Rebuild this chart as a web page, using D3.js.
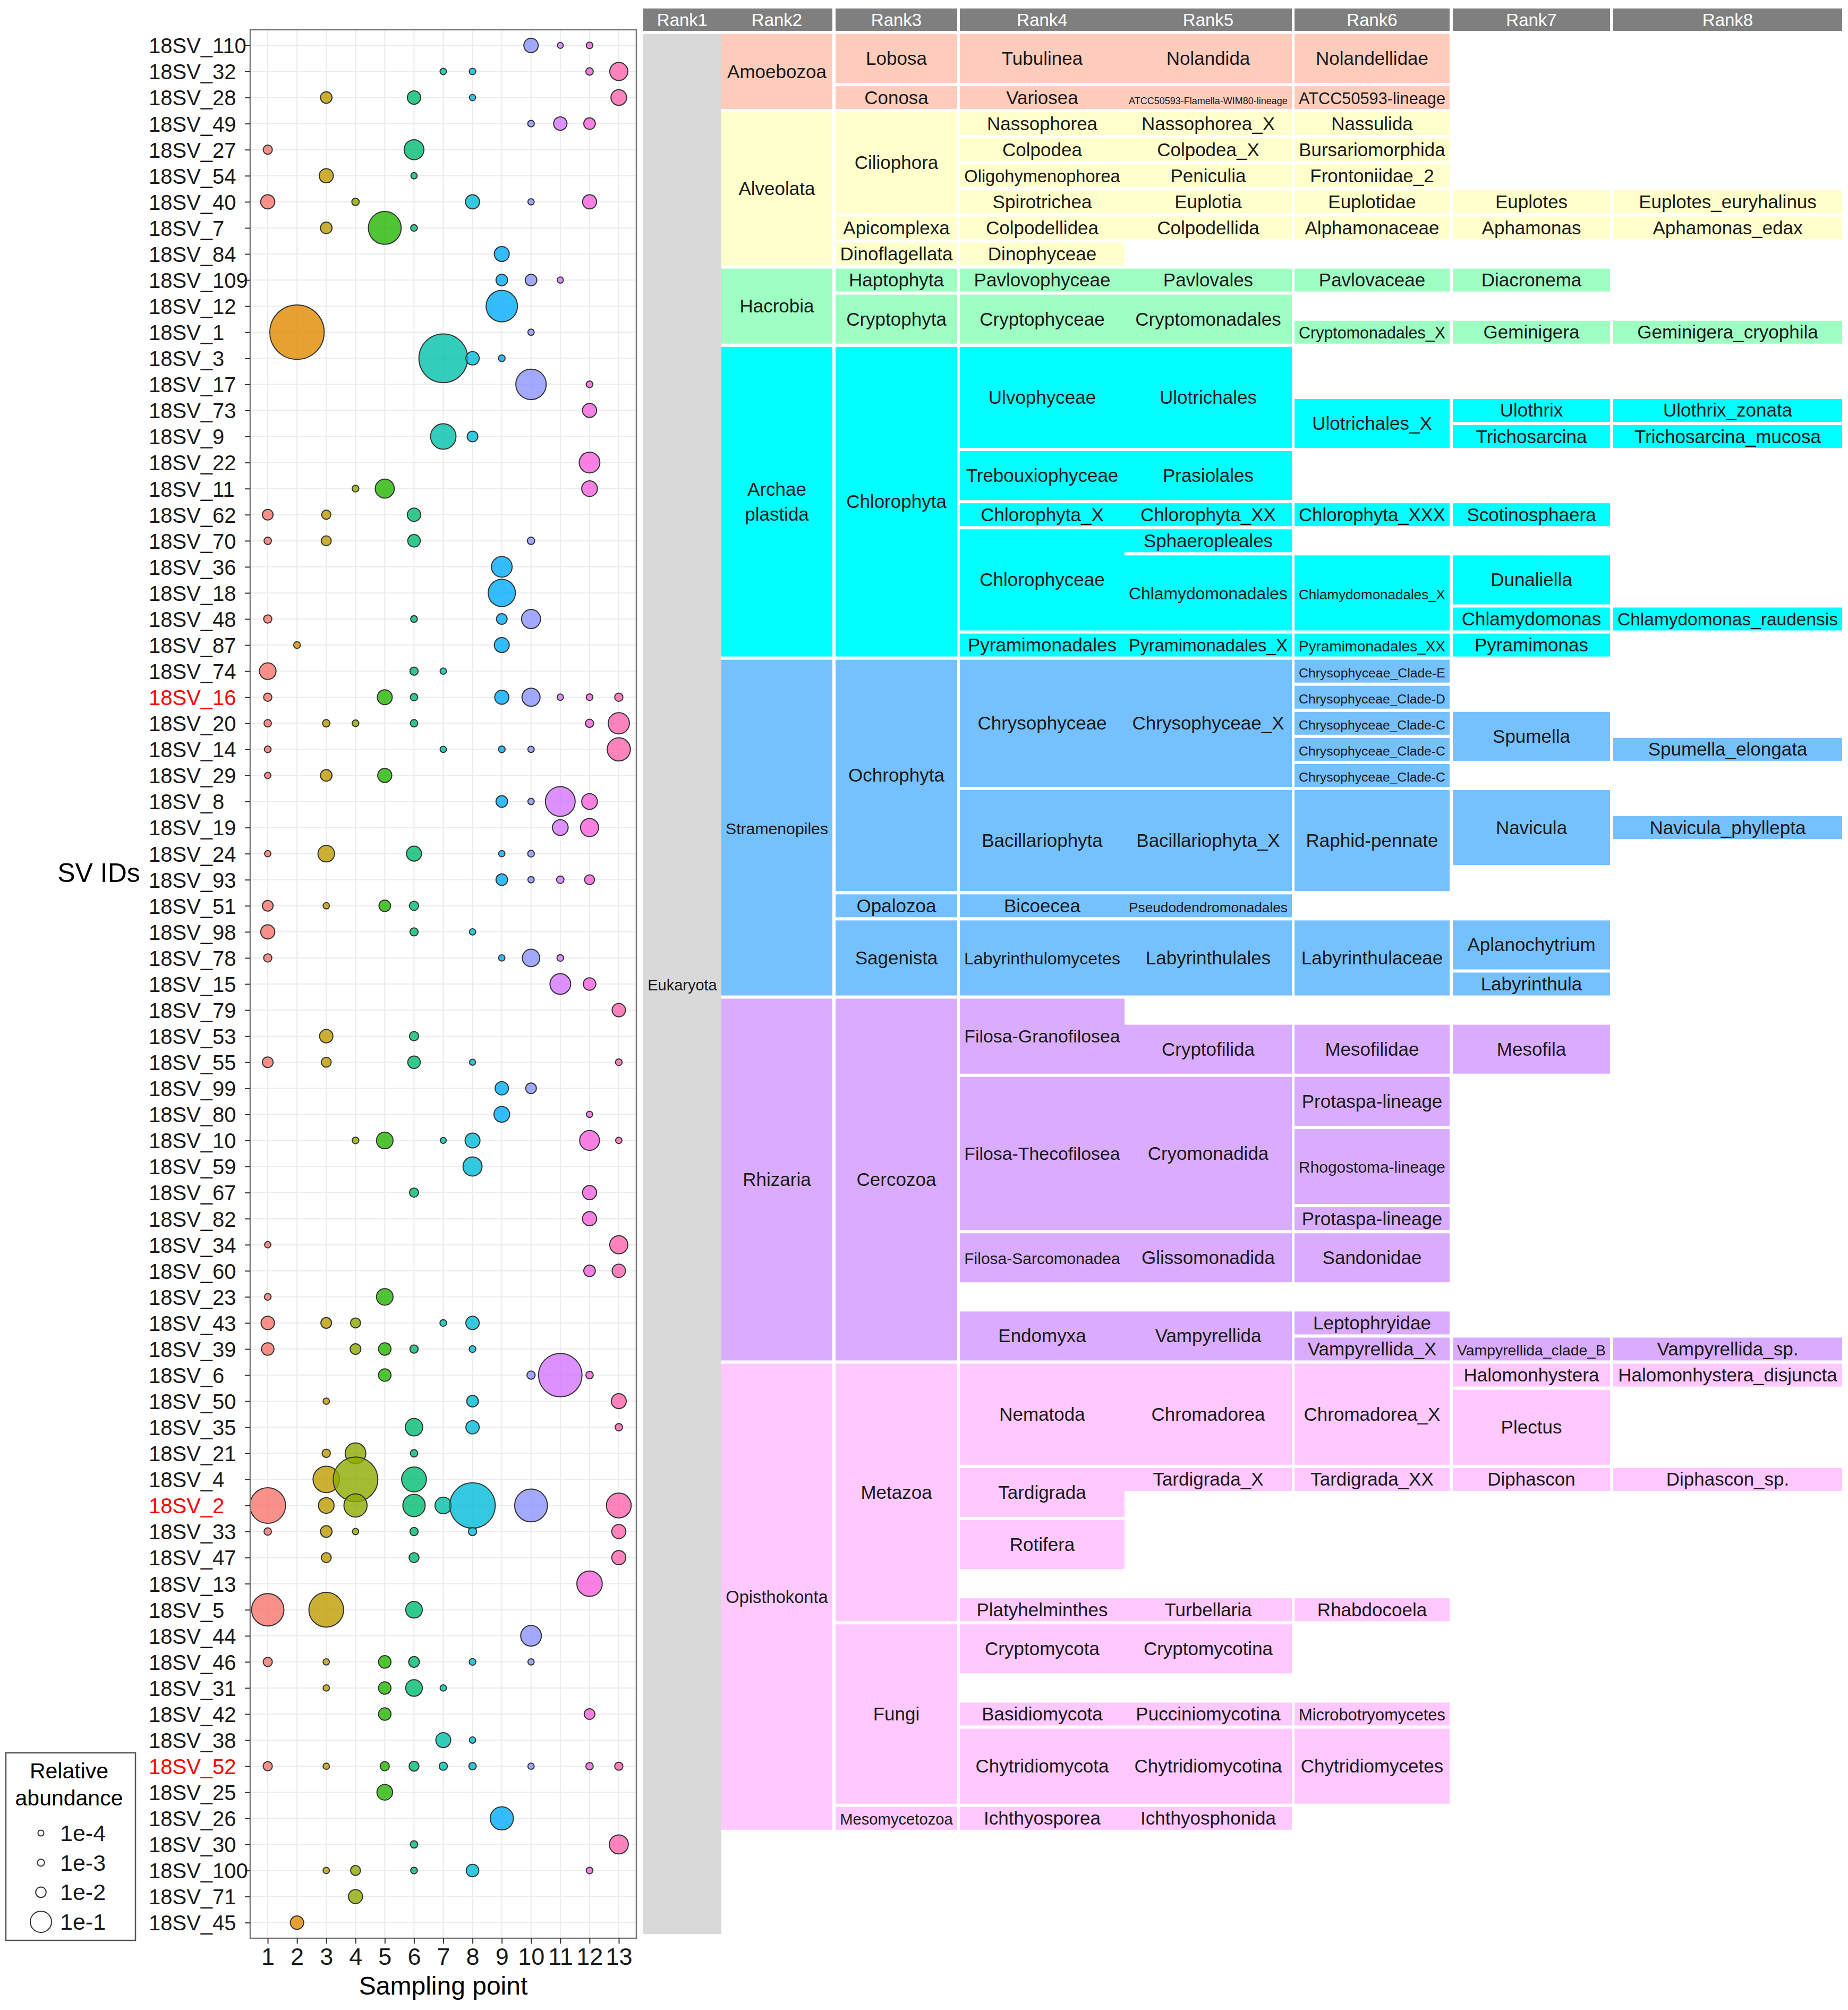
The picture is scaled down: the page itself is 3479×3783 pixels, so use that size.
<!DOCTYPE html>
<html>
<head>
<meta charset="utf-8">
<script src="https://cdn.jsdelivr.net/npm/d3@7"></script>
<style>
body { margin: 0; background: #fff; }
text { font-family: "Liberation Sans", Arial, Helvetica, sans-serif; }
</style>
</head>
<body>
<script>
var W = 3479, H = 3783;

// SV ids, top to bottom
var svIds = ["18SV_110","18SV_32","18SV_28","18SV_49","18SV_27","18SV_54","18SV_40","18SV_7","18SV_84","18SV_109",
  "18SV_12","18SV_1","18SV_3","18SV_17","18SV_73","18SV_9","18SV_22","18SV_11","18SV_62","18SV_70",
  "18SV_36","18SV_18","18SV_48","18SV_87","18SV_74","18SV_16","18SV_20","18SV_14","18SV_29","18SV_8",
  "18SV_19","18SV_24","18SV_93","18SV_51","18SV_98","18SV_78","18SV_15","18SV_79","18SV_53","18SV_55",
  "18SV_99","18SV_80","18SV_10","18SV_59","18SV_67","18SV_82","18SV_34","18SV_60","18SV_23","18SV_43",
  "18SV_39","18SV_6","18SV_50","18SV_35","18SV_21","18SV_4","18SV_2","18SV_33","18SV_47","18SV_13",
  "18SV_5","18SV_44","18SV_46","18SV_31","18SV_42","18SV_38","18SV_52","18SV_25","18SV_26","18SV_30",
  "18SV_100","18SV_71","18SV_45"];
var highlighted = ["18SV_16", "18SV_2", "18SV_52"];

var samplingPoints = [1,2,3,4,5,6,7,8,9,10,11,12,13];
var pointColors = ["#F8766D","#E18A00","#BE9C00","#8CAB00","#24B700","#00BE70","#00C1AB",
  "#00BBDA","#00ACFC","#8B93FF","#D575FE","#F962DD","#FF65AC"];

// relative abundance per SV: [sampling point, value]
var abundance = [
  [[10,.032],[11,.0001],[12,.0005]],
  [[7,.0004],[8,.0004],[12,.0015],[13,.064]],
  [[3,.015],[6,.025],[8,.0002],[13,.042]],
  [[10,.0005],[11,.025],[12,.015]],
  [[1,.0055],[6,.083]],
  [[3,.03],[6,.0003]],
  [[1,.03],[4,.0015],[8,.03],[10,.0003],[12,.03]],
  [[3,.015],[5,.30],[6,.0006]],
  [[9,.036]],
  [[9,.015],[10,.015],[11,.0002]],
  [[9,.27]],
  [[2,.96],[10,.0003]],
  [[7,.75],[8,.025],[9,.0006]],
  [[10,.25],[12,.0006]],
  [[12,.03]],
  [[7,.16],[8,.011]],
  [[12,.093]],
  [[4,.0006],[5,.074],[12,.042]],
  [[1,.011],[3,.0055],[6,.025]],
  [[1,.0015],[3,.008],[6,.02],[10,.0015]],
  [[9,.093]],
  [[9,.19]],
  [[1,.003],[6,.0006],[9,.011],[10,.074]],
  [[2,.0006],[9,.036]],
  [[1,.05],[6,.003],[7,.0003]],
  [[1,.003],[5,.036],[6,.0015],[9,.03],[10,.064],[11,.0003],[12,.0006],[13,.003]],
  [[1,.0015],[3,.0015],[4,.0006],[6,.0015],[12,.003],[13,.10]],
  [[1,.0006],[7,.0003],[9,.0006],[10,.0003],[13,.126]],
  [[1,.0003],[3,.015],[5,.03]],
  [[9,.015],[10,.0003],[11,.237],[12,.042]],
  [[11,.042],[12,.064]],
  [[1,.0003],[3,.05],[6,.036],[9,.0003],[10,.0006]],
  [[9,.015],[10,.0003],[11,.0015],[12,.008]],
  [[1,.011],[3,.0003],[5,.015],[6,.0055]],
  [[1,.03],[6,.003],[8,.0003]],
  [[1,.003],[9,.0003],[10,.057],[11,.0006]],
  [[11,.093],[12,.02]],
  [[13,.025]],
  [[3,.025],[6,.0055]],
  [[1,.011],[3,.008],[6,.02],[8,.0001],[13,.0006]],
  [[9,.025],[10,.011]],
  [[9,.042],[12,.0003]],
  [[4,.0006],[5,.05],[7,.0001],[8,.036],[12,.083],[13,.0003]],
  [[8,.074]],
  [[6,.0055],[12,.03]],
  [[12,.03]],
  [[1,.0003],[13,.064]],
  [[12,.015],[13,.025]],
  [[1,.0006],[5,.05]],
  [[1,.025],[3,.011],[4,.008],[7,.0006],[8,.025]],
  [[1,.02],[4,.011],[5,.02],[6,.003],[8,.0006]],
  [[5,.02],[10,.003],[11,.58],[12,.0015]],
  [[3,.0003],[8,.015],[13,.036]],
  [[6,.057],[8,.025],[13,.0015]],
  [[3,.003],[4,.093],[6,.0015]],
  [[3,.177],[4,.615],[6,.15]],
  [[1,.364],[3,.042],[4,.126],[6,.114],[7,.05],[8,.642],[10,.30],[13,.15]],
  [[1,.0015],[3,.015],[4,.0003],[6,.003],[8,.003],[13,.03]],
  [[3,.008],[6,.008],[13,.03]],
  [[12,.16]],
  [[1,.29],[3,.344],[6,.05]],
  [[10,.093]],
  [[1,.0055],[3,.0003],[5,.02],[6,.011],[8,.0006],[10,.0003]],
  [[3,.0003],[5,.02],[6,.05],[7,.0003]],
  [[5,.02],[12,.011]],
  [[7,.036],[8,.0003]],
  [[1,.0055],[3,.0003],[5,.0055],[6,.008],[7,.003],[8,.0015],[10,.0003],[12,.0015],[13,.003]],
  [[5,.042]],
  [[9,.126]],
  [[6,.0015],[13,.074]],
  [[3,.0003],[4,.008],[6,.0006],[8,.02],[12,.0006]],
  [[4,.03]],
  [[2,.025]]
];

var legendBreaks = [1e-4, 1e-3, 1e-2, 1e-1];
var legendLabels = ["1e-4", "1e-3", "1e-2", "1e-1"];

// taxonomy table
var ranks = ["Rank1","Rank2","Rank3","Rank4","Rank5","Rank6","Rank7","Rank8"];
var headerGroups = [["Rank1","Rank2"],["Rank3"],["Rank4","Rank5"],["Rank6"],["Rank7"],["Rank8"]];
var rank1 = [["18SV_110","18SV_45","Eukaryota"]];
var rank2 = [["18SV_110","18SV_28","Amoebozoa"],["18SV_49","18SV_84","Alveolata"],["18SV_109","18SV_1","Hacrobia"],
  ["18SV_3","18SV_87","Archae\nplastida"],["18SV_74","18SV_15","Stramenopiles"],["18SV_79","18SV_39","Rhizaria"],
  ["18SV_6","18SV_26","Opisthokonta"]];
var groupColors = ["#FFCBBB","#FFFFCC","#9EFFC2","#00FFFF","#75C1FF","#DAACFF","#FFC8FF"];
var rank3 = [["18SV_110","18SV_32","Lobosa"],["18SV_28","Conosa"],["18SV_49","18SV_40","Ciliophora"],["18SV_7","Apicomplexa"],
  ["18SV_84","Dinoflagellata"],["18SV_109","Haptophyta"],["18SV_12","18SV_1","Cryptophyta"],["18SV_3","18SV_87","Chlorophyta"],
  ["18SV_74","18SV_93","Ochrophyta"],["18SV_51","Opalozoa"],["18SV_98","18SV_15","Sagenista"],["18SV_79","18SV_39","Cercozoa"],
  ["18SV_6","18SV_5","Metazoa"],["18SV_44","18SV_25","Fungi"],["18SV_26","Mesomycetozoa"]];
var rank4 = [["18SV_110","18SV_32","Tubulinea"],["18SV_28","Variosea"],["18SV_49","Nassophorea"],["18SV_27","Colpodea"],
  ["18SV_54","Oligohymenophorea"],["18SV_40","Spirotrichea"],["18SV_7","Colpodellidea"],["18SV_84","Dinophyceae"],
  ["18SV_109","Pavlovophyceae"],["18SV_12","18SV_1","Cryptophyceae"],["18SV_3","18SV_9","Ulvophyceae"],
  ["18SV_22","18SV_11","Trebouxiophyceae"],["18SV_62","Chlorophyta_X"],["18SV_70","18SV_48","Chlorophyceae"],
  ["18SV_87","Pyramimonadales"],["18SV_74","18SV_29","Chrysophyceae"],["18SV_8","18SV_93","Bacillariophyta"],
  ["18SV_51","Bicoecea"],["18SV_98","18SV_15","Labyrinthulomycetes"],["18SV_79","18SV_55","Filosa-Granofilosea"],
  ["18SV_99","18SV_82","Filosa-Thecofilosea"],["18SV_34","18SV_60","Filosa-Sarcomonadea"],["18SV_43","18SV_39","Endomyxa"],
  ["18SV_6","18SV_21","Nematoda"],["18SV_4","18SV_2","Tardigrada"],["18SV_33","18SV_47","Rotifera"],["18SV_5","Platyhelminthes"],
  ["18SV_44","18SV_46","Cryptomycota"],["18SV_42","Basidiomycota"],["18SV_38","18SV_25","Chytridiomycota"],["18SV_26","Ichthyosporea"]];
var rank5 = [["18SV_110","18SV_32","Nolandida"],["18SV_28","ATCC50593-Flamella-WIM80-lineage"],["18SV_49","Nassophorea_X"],
  ["18SV_27","Colpodea_X"],["18SV_54","Peniculia"],["18SV_40","Euplotia"],["18SV_7","Colpodellida"],["18SV_109","Pavlovales"],
  ["18SV_12","18SV_1","Cryptomonadales"],["18SV_3","18SV_9","Ulotrichales"],["18SV_22","18SV_11","Prasiolales"],
  ["18SV_62","Chlorophyta_XX"],["18SV_70","Sphaeropleales"],["18SV_36","18SV_48","Chlamydomonadales"],["18SV_87","Pyramimonadales_X"],
  ["18SV_74","18SV_29","Chrysophyceae_X"],["18SV_8","18SV_93","Bacillariophyta_X"],["18SV_51","Pseudodendromonadales"],
  ["18SV_98","18SV_15","Labyrinthulales"],["18SV_53","18SV_55","Cryptofilida"],["18SV_99","18SV_82","Cryomonadida"],
  ["18SV_34","18SV_60","Glissomonadida"],["18SV_43","18SV_39","Vampyrellida"],["18SV_6","18SV_21","Chromadorea"],
  ["18SV_4","Tardigrada_X"],["18SV_5","Turbellaria"],["18SV_44","18SV_46","Cryptomycotina"],["18SV_42","Pucciniomycotina"],
  ["18SV_38","18SV_25","Chytridiomycotina"],["18SV_26","Ichthyosphonida"]];
var rank6 = [["18SV_110","18SV_32","Nolandellidae"],["18SV_28","ATCC50593-lineage"],["18SV_49","Nassulida"],
  ["18SV_27","Bursariomorphida"],["18SV_54","Frontoniidae_2"],["18SV_40","Euplotidae"],["18SV_7","Alphamonaceae"],
  ["18SV_109","Pavlovaceae"],["18SV_1","Cryptomonadales_X"],["18SV_73","18SV_9","Ulotrichales_X"],["18SV_62","Chlorophyta_XXX"],
  ["18SV_36","18SV_48","Chlamydomonadales_X"],["18SV_87","Pyramimonadales_XX"],["18SV_74","Chrysophyceae_Clade-E"],
  ["18SV_16","Chrysophyceae_Clade-D"],["18SV_20","Chrysophyceae_Clade-C"],["18SV_14","Chrysophyceae_Clade-C"],
  ["18SV_29","Chrysophyceae_Clade-C"],["18SV_8","18SV_93","Raphid-pennate"],["18SV_98","18SV_15","Labyrinthulaceae"],
  ["18SV_53","18SV_55","Mesofilidae"],["18SV_99","18SV_80","Protaspa-lineage"],["18SV_10","18SV_67","Rhogostoma-lineage"],
  ["18SV_82","Protaspa-lineage"],["18SV_34","18SV_60","Sandonidae"],["18SV_43","Leptophryidae"],["18SV_39","Vampyrellida_X"],
  ["18SV_6","18SV_21","Chromadorea_X"],["18SV_4","Tardigrada_XX"],["18SV_5","Rhabdocoela"],["18SV_42","Microbotryomycetes"],
  ["18SV_38","18SV_25","Chytridiomycetes"]];
var rank7 = [["18SV_40","Euplotes"],["18SV_7","Aphamonas"],["18SV_109","Diacronema"],["18SV_1","Geminigera"],
  ["18SV_73","Ulothrix"],["18SV_9","Trichosarcina"],["18SV_62","Scotinosphaera"],["18SV_36","18SV_18","Dunaliella"],
  ["18SV_48","Chlamydomonas"],["18SV_87","Pyramimonas"],["18SV_20","18SV_14","Spumella"],["18SV_8","18SV_24","Navicula"],
  ["18SV_98","18SV_78","Aplanochytrium"],["18SV_15","Labyrinthula"],["18SV_53","18SV_55","Mesofila"],
  ["18SV_39","Vampyrellida_clade_B"],["18SV_6","Halomonhystera"],["18SV_50","18SV_21","Plectus"],["18SV_4","Diphascon"]];
var rank8 = [["18SV_40","Euplotes_euryhalinus"],["18SV_7","Aphamonas_edax"],["18SV_1","Geminigera_cryophila"],
  ["18SV_73","Ulothrix_zonata"],["18SV_9","Trichosarcina_mucosa"],["18SV_48","Chlamydomonas_raudensis"],
  ["18SV_14","Spumella_elongata"],["18SV_19","Navicula_phyllepta"],["18SV_39","Vampyrellida_sp."],
  ["18SV_6","Halomonhystera_disjuncta"],["18SV_4","Diphascon_sp."]];

// ---------- layout ----------
var panel = {left: 471, right: 1198, top: 56, bottom: 3648};
var colEdges = {Rank1: [1211, 1358], Rank2: [1358, 1567], Rank3: [1573, 1802], Rank4: [1807, 2117],
  Rank5: [2117, 2432], Rank6: [2437, 2729], Rank7: [2735, 3031], Rank8: [3037, 3468]};

var svg = d3.select("body").append("svg")
  .attr("width", W).attr("height", H)
  .style("background", "#fff");

var x = d3.scalePoint().domain(samplingPoints).range([panel.left, panel.right]).padding(0.6);
var y = d3.scalePoint().domain(svIds).range([panel.top, panel.bottom]).padding(0.6);
var r = d3.scaleSqrt().domain([0, 1]).range([5.13, 52.13]);
var color = d3.scaleOrdinal().domain(samplingPoints).range(pointColors);

// grid
var grid = svg.append("g");
grid.selectAll("line.v").data(samplingPoints).enter().append("line")
  .attr("x1", function(d) { return x(d); }).attr("x2", function(d) { return x(d); })
  .attr("y1", panel.top).attr("y2", panel.bottom)
  .attr("stroke", "#EBEBEB").attr("stroke-width", 2);
grid.selectAll("line.h").data(svIds).enter().append("line")
  .attr("y1", function(d) { return y(d); }).attr("y2", function(d) { return y(d); })
  .attr("x1", panel.left).attr("x2", panel.right)
  .attr("stroke", "#EBEBEB").attr("stroke-width", 2);

// bubbles
var points = [];
abundance.forEach(function(row, i) {
  row.forEach(function(p) { points.push({id: svIds[i], point: p[0], value: p[1]}); });
});
svg.append("g").selectAll("circle").data(points).enter().append("circle")
  .attr("cx", function(d) { return x(d.point); })
  .attr("cy", function(d) { return y(d.id); })
  .attr("r", function(d) { return r(d.value); })
  .attr("fill", function(d) { return color(d.point); })
  .attr("fill-opacity", 0.8)
  .attr("stroke", "#333").attr("stroke-width", 2);

svg.append("rect")
  .attr("x", panel.left).attr("y", panel.top)
  .attr("width", panel.right - panel.left).attr("height", panel.bottom - panel.top)
  .attr("fill", "none").attr("stroke", "#7a7a7a").attr("stroke-width", 2.5);

// axes
var yAxis = svg.append("g")
  .attr("transform", "translate(" + panel.left + ",0)")
  .call(d3.axisLeft(y).tickSize(10).tickSizeOuter(0));
yAxis.select(".domain").remove();
yAxis.selectAll(".tick line").attr("stroke", "#333").attr("stroke-width", 2);
yAxis.selectAll(".tick text")
  .attr("text-anchor", "start").attr("x", 280 - panel.left).attr("dy", "0.36em")
  .attr("font-size", 40)
  .attr("fill", function(d) { return highlighted.indexOf(d) >= 0 ? "#FF0000" : "#1a1a1a"; });

var xAxis = svg.append("g")
  .attr("transform", "translate(0," + panel.bottom + ")")
  .call(d3.axisBottom(x).tickSize(10).tickSizeOuter(0).tickPadding(8));
xAxis.select(".domain").remove();
xAxis.selectAll(".tick line").attr("stroke", "#333").attr("stroke-width", 2);
xAxis.selectAll(".tick text").attr("font-size", 45).attr("fill", "#1a1a1a");

svg.append("text").text("Sampling point")
  .attr("x", (panel.left + panel.right) / 2).attr("y", 3754)
  .attr("text-anchor", "middle").attr("font-size", 48).attr("fill", "#000");
svg.append("text").text("SV IDs")
  .attr("x", 186).attr("y", 1660)
  .attr("text-anchor", "middle").attr("font-size", 50).attr("fill", "#000");

// size legend
var lg = svg.append("g");
lg.append("rect").attr("x", 11).attr("y", 3299).attr("width", 244).attr("height", 353)
  .attr("fill", "#fff").attr("stroke", "#555").attr("stroke-width", 2.5);
lg.append("text").attr("x", 130).attr("y", 3347).attr("text-anchor", "middle")
  .attr("font-size", 41).text("Relative");
lg.append("text").attr("x", 130).attr("y", 3398).attr("text-anchor", "middle")
  .attr("font-size", 41).text("abundance");
var legY = d3.scalePoint().domain(legendLabels).range([3450, 3617]);
lg.selectAll("circle").data(legendBreaks).enter().append("circle")
  .attr("cx", 77).attr("cy", function(d, i) { return legY(legendLabels[i]); })
  .attr("r", function(d) { return r(d); })
  .attr("fill", "#fff").attr("stroke", "#333").attr("stroke-width", 2);
lg.selectAll("text.lab").data(legendLabels).enter().append("text")
  .attr("class", "lab")
  .attr("x", 113).attr("y", function(d) { return legY(d) + 15; })
  .attr("font-size", 43).attr("fill", "#1a1a1a").text(function(d) { return d; });

// ---------- taxonomy table ----------
var step = y.step();
var rowIndex = new Map(svIds.map(function(d, i) { return [d, i]; }));

function norm(c) { return c.length === 2 ? [c[0], c[0], c[1]] : c; }

function groupColor(id) {
  var i = rowIndex.get(id);
  for (var g = 0; g < rank2.length; g++) {
    if (i >= rowIndex.get(rank2[g][0]) && i <= rowIndex.get(rank2[g][1])) return groupColors[g];
  }
  return "#fff";
}

function fitLabel(t, maxW, base) {
  t.attr("font-size", base);
  var w = t.node().getBBox().width;
  if (w > maxW) t.attr("font-size", base * maxW / w);
}

var table = svg.append("g");
function drawRank(rank, cells, fill) {
  var e = colEdges[rank];
  var g = table.append("g");
  cells.map(norm).forEach(function(c) {
    var top = y(c[0]) - step / 2 + 3;
    var bot = y(c[1]) + step / 2 - 3;
    g.append("rect")
      .attr("x", e[0]).attr("y", top).attr("width", e[1] - e[0]).attr("height", bot - top)
      .attr("fill", fill || groupColor(c[0]));
    var lines = c[2].split("\n");
    var cy = (top + bot) / 2;
    var t = g.append("text")
      .attr("text-anchor", "middle").attr("fill", "#1a1a1a");
    lines.forEach(function(l, k) {
      t.append("tspan")
        .attr("x", (e[0] + e[1]) / 2)
        .attr("y", cy + (k - (lines.length - 1) / 2) * 47 + 12)
        .text(l);
    });
    fitLabel(t, e[1] - e[0] - 16, 35);
  });
}
drawRank("Rank1", rank1, "#D9D9D9");
drawRank("Rank2", rank2);
drawRank("Rank3", rank3);
drawRank("Rank4", rank4);
drawRank("Rank5", rank5);
drawRank("Rank6", rank6);
drawRank("Rank7", rank7);
drawRank("Rank8", rank8);

// header
var hdr = svg.append("g");
headerGroups.forEach(function(grp) {
  var x0 = colEdges[grp[0]][0], x1 = colEdges[grp[grp.length - 1]][1];
  hdr.append("rect").attr("x", x0).attr("y", 16).attr("width", x1 - x0).attr("height", 42)
    .attr("fill", "#7F7F7F");
});
hdr.selectAll("text").data(ranks).enter().append("text")
  .attr("x", function(d) { return (colEdges[d][0] + colEdges[d][1]) / 2; })
  .attr("y", 49)
  .attr("text-anchor", "middle").attr("font-size", 33).attr("fill", "#fff")
  .text(function(d) { return d; });
</script>
</body>
</html>
